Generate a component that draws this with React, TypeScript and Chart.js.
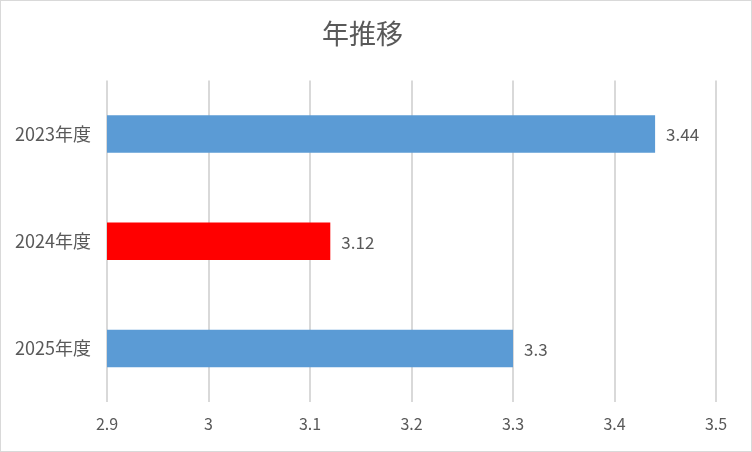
import { useEffect, useRef } from "react";
import { Chart, registerables, Plugin } from "chart.js";

Chart.register(...registerables);

// chart data
const categories = ["2023年度", "2024年度", "2025年度"];
const scores = [3.44, 3.12, 3.3];
const xTickLabels = ["2.9", "3", "3.1", "3.2", "3.3", "3.4", "3.5"];
const chartTitle = "年推移";

const BLUE = "#5B9BD5";
const RED = "#FF0000";
const barColors = [BLUE, RED, BLUE];
const TEXT = "#595959";
const GRID = "#D9D9D9";
const FONT = "'Noto Sans CJK JP', 'Noto Sans', sans-serif";

// draws the value at the end of each bar
const valueLabels: Plugin<"bar"> = {
  id: "valueLabels",
  afterDatasetsDraw(chart) {
    const ctx = chart.ctx;
    const meta = chart.getDatasetMeta(0);
    ctx.save();
    ctx.fillStyle = TEXT;
    ctx.font = `17px ${FONT}`;
    ctx.textAlign = "left";
    ctx.textBaseline = "middle";
    meta.data.forEach((bar, i) => {
      const { x, y } = bar.getProps(["x", "y"], true);
      ctx.fillText(String(chart.data.datasets[0].data[i]), x + 11, y + 1);
    });
    ctx.restore();
  },
};

export default function App() {
  const canvasRef = useRef<HTMLCanvasElement | null>(null);
  const chartRef = useRef<Chart | null>(null);

  useEffect(() => {
    document.body.style.margin = "0";
    if (!canvasRef.current) return;
    if (chartRef.current) chartRef.current.destroy();

    chartRef.current = new Chart(canvasRef.current, {
      type: "bar",
      data: {
        labels: categories,
        datasets: [
          {
            data: scores,
            backgroundColor: barColors,
            borderWidth: 0,
            barPercentage: 0.35,
            categoryPercentage: 1,
          },
        ],
      },
      options: {
        indexAxis: "y",
        animation: false,
        responsive: false,
        layout: { padding: { left: 8, right: 35, top: 0, bottom: 0 } },
        scales: {
          x: {
            min: 2.9,
            max: 3.5,
            ticks: {
              stepSize: 0.1,
              color: TEXT,
              font: { family: FONT, size: 16 },
              padding: 12,
              callback: (_v, i) => xTickLabels[i],
            },
            grid: { color: GRID, lineWidth: 2, drawTicks: false },
            border: { display: false },
            afterFit: (scale) => {
              scale.height = 49;
            },
          },
          y: {
            ticks: {
              color: TEXT,
              font: { family: FONT, size: 18 },
              padding: 8,
            },
            grid: { display: false },
            border: { display: false },
            afterFit: (scale) => {
              scale.width = 98;
            },
          },
        },
        plugins: {
          legend: { display: false },
          tooltip: { enabled: false },
          title: {
            display: true,
            text: chartTitle,
            color: TEXT,
            font: { family: FONT, size: 27, weight: "normal" },
            padding: { top: 17, bottom: 30 },
          },
        },
      },
      plugins: [valueLabels],
    });

    return () => {
      if (chartRef.current) {
        chartRef.current.destroy();
        chartRef.current = null;
      }
    };
  }, []);

  return (
    <div
      style={{
        position: "fixed",
        left: 0,
        top: 0,
        width: 752,
        height: 452,
        boxSizing: "border-box",
        border: `1px solid ${GRID}`,
        background: "#fff",
      }}
    >
      <canvas ref={canvasRef} width={750} height={450} style={{ display: "block" }} />
    </div>
  );
}
